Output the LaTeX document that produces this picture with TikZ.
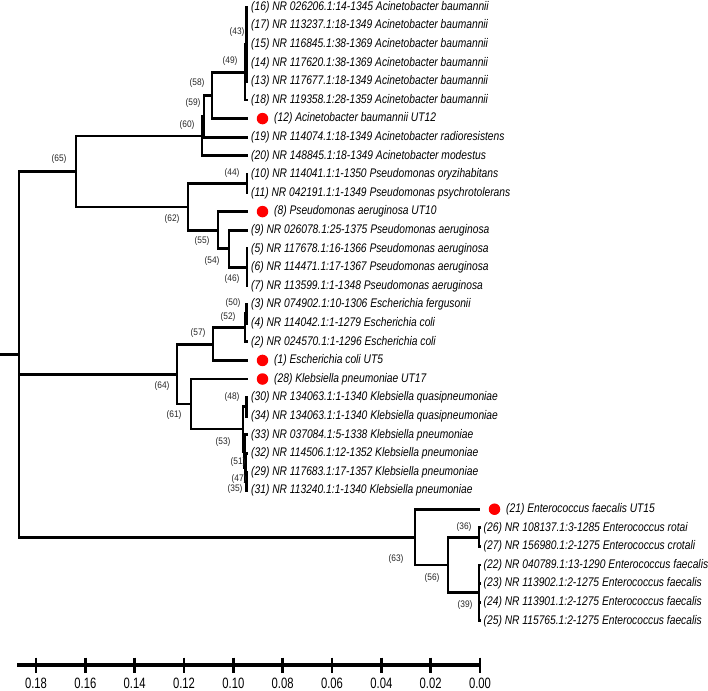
\documentclass[tikz,border=0pt]{standalone}
\usepackage{fontspec}
\newfontfamily\leaffont[FakeStretch=0.82]{Liberation Sans}
\newfontfamily\bsfont[FakeStretch=0.88]{Liberation Sans}
\newfontfamily\axfont[FakeStretch=0.75]{Liberation Sans}
\tikzset{
  br/.style={line width=2.9pt, line join=miter},
  axisline/.style={line width=3.2pt},
  leaflabel/.style={anchor=west, inner sep=0pt, font=\leaffont\itshape\fontsize{12.5}{14}\selectfont},
  bs/.style={inner sep=0pt, text=black!85, font=\bsfont\fontsize{9.5}{11}\selectfont},
  reddot/.style={circle, fill=red, inner sep=0pt, minimum size=11.5pt},
  axlabel/.style={inner sep=0pt, font=\axfont\fontsize{15}{17}\selectfont}
}
\newcommand\plainleaf[4]{\coordinate (#1) at (#2,#3); \node[leaflabel] (t#1) at ([xshift=3pt]#1) {#4};}
\newcommand\dotleaf[4]{\coordinate (#1) at (#2,#3); \node[reddot] (d#1) at ([xshift=14.5pt]#1) {}; \node[leaflabel] (t#1) at ([xshift=26pt]#1) {#4};}
\newcommand\kids[2]{\foreach \c in {#2}{\draw[br] (#1) |- (\c);}}
\begin{document}
\begin{tikzpicture}[x=1pt,y=-1pt]
\useasboundingbox (0,0) rectangle (708,690);
% leaves
\plainleaf{L16}{248}{7.0}{(16) NR 026206.1:14-1345 Acinetobacter baumannii}
\plainleaf{L17}{248}{25.6}{(17) NR 113237.1:18-1349 Acinetobacter baumannii}
\plainleaf{L15}{248}{44.2}{(15) NR 116845.1:38-1369 Acinetobacter baumannii}
\plainleaf{L14}{248}{62.8}{(14) NR 117620.1:38-1369 Acinetobacter baumannii}
\plainleaf{L13}{248}{81.4}{(13) NR 117677.1:18-1349 Acinetobacter baumannii}
\plainleaf{L18}{248}{100.0}{(18) NR 119358.1:28-1359 Acinetobacter baumannii}
\dotleaf{L12}{248}{118.6}{(12) Acinetobacter baumannii UT12}
\plainleaf{L19}{248}{137.2}{(19) NR 114074.1:18-1349 Acinetobacter radioresistens}
\plainleaf{L20}{248}{155.8}{(20) NR 148845.1:18-1349 Acinetobacter modestus}
\plainleaf{L10}{248}{174.4}{(10) NR 114041.1:1-1350 Pseudomonas oryzihabitans}
\plainleaf{L11}{248}{193.0}{(11) NR 042191.1:1-1349 Pseudomonas psychrotolerans}
\dotleaf{L8}{248}{211.6}{(8) Pseudomonas aeruginosa UT10}
\plainleaf{L9}{248}{230.2}{(9) NR 026078.1:25-1375 Pseudomonas aeruginosa}
\plainleaf{L5}{248}{248.8}{(5) NR 117678.1:16-1366 Pseudomonas aeruginosa}
\plainleaf{L6}{248}{267.4}{(6) NR 114471.1:17-1367 Pseudomonas aeruginosa}
\plainleaf{L7}{248}{286.0}{(7) NR 113599.1:1-1348 Pseudomonas aeruginosa}
\plainleaf{L3}{248}{304.6}{(3) NR 074902.1:10-1306 Escherichia fergusonii}
\plainleaf{L4}{248}{323.2}{(4) NR 114042.1:1-1279 Escherichia coli}
\plainleaf{L2}{248}{341.8}{(2) NR 024570.1:1-1296 Escherichia coli}
\dotleaf{L1}{248}{360.4}{(1) Escherichia coli UT5}
\dotleaf{L28}{248}{379.0}{(28) Klebsiella pneumoniae UT17}
\plainleaf{L30}{248}{397.6}{(30) NR 134063.1:1-1340 Klebsiella quasipneumoniae}
\plainleaf{L34}{248}{416.2}{(34) NR 134063.1:1-1340 Klebsiella quasipneumoniae}
\plainleaf{L33}{248}{434.8}{(33) NR 037084.1:5-1338 Klebsiella pneumoniae}
\plainleaf{L32}{248}{453.4}{(32) NR 114506.1:12-1352 Klebsiella pneumoniae}
\plainleaf{L29}{248}{472.0}{(29) NR 117683.1:17-1357 Klebsiella pneumoniae}
\plainleaf{L31}{248}{490.6}{(31) NR 113240.1:1-1340 Klebsiella pneumoniae}
\dotleaf{L21}{480}{509.2}{(21) Enterococcus faecalis UT15}
\plainleaf{L26}{480.5}{527.8}{(26) NR 108137.1:3-1285 Enterococcus rotai}
\plainleaf{L27}{480.5}{546.4}{(27) NR 156980.1:2-1275 Enterococcus crotali}
\plainleaf{L22}{480.5}{565.0}{(22) NR 040789.1:13-1290 Enterococcus faecalis}
\plainleaf{L23}{480.5}{583.6}{(23) NR 113902.1:2-1275 Enterococcus faecalis}
\plainleaf{L24}{480.5}{602.2}{(24) NR 113901.1:2-1275 Enterococcus faecalis}
\plainleaf{L25}{480.5}{620.8}{(25) NR 115765.1:2-1275 Enterococcus faecalis}
% internal nodes
\coordinate (n43) at (246.5,44.2);
\coordinate (n49) at (245,72.1);
\coordinate (nA) at (212,95.35);
\coordinate (nB) at (204,116.3);
\coordinate (nC) at (202,136.0);
\coordinate (n44) at (247,183.7);
\coordinate (n46) at (247,267.4);
\coordinate (n54) at (229,248.8);
\coordinate (n55) at (218,230.2);
\coordinate (n62) at (188,206.95);
\coordinate (n65) at (76,171.5);
\coordinate (n50) at (246.5,313.9);
\coordinate (n52) at (245,327.85);
\coordinate (n57) at (213,344.1);
\coordinate (n48) at (246.5,406.9);
\coordinate (n35) at (246.5,481.3);
\coordinate (n47) at (245.5,467.35);
\coordinate (n51) at (244.5,451.1);
\coordinate (n53) at (243,429.0);
\coordinate (n61) at (191,404.0);
\coordinate (n64) at (177,374.05);
\coordinate (n36) at (479,537.1);
\coordinate (n39) at (479,592.9);
\coordinate (n56) at (448,565.0);
\coordinate (n63) at (415,537.1);
\coordinate (root) at (19,354.3);
\coordinate (root0) at (0,354.3);
% branches
\kids{n43}{L16,L17,L15,L14,L13}
\kids{n49}{n43,L18}
\kids{nA}{n49,L12}
\kids{nB}{nA,L19}
\kids{nC}{nB,L20}
\kids{n44}{L10,L11}
\kids{n46}{L5,L6,L7}
\kids{n54}{L9,n46}
\kids{n55}{L8,n54}
\kids{n62}{n44,n55}
\kids{n65}{nC,n62}
\kids{n50}{L3,L4}
\kids{n52}{n50,L2}
\kids{n57}{n52,L1}
\kids{n48}{L30,L34}
\kids{n35}{L29,L31}
\kids{n47}{L32,n35}
\kids{n51}{L33,n47}
\kids{n53}{n48,n51}
\kids{n61}{L28,n53}
\kids{n64}{n57,n61}
\kids{n36}{L26,L27}
\kids{n39}{L22,L23,L24,L25}
\kids{n56}{n36,n39}
\kids{n63}{L21,n56}
\kids{root}{n65,n64,n63}
\draw[br] (root0) -- (root);
% bootstrap values
\node[bs] (b43) at (237,32) {(43)};
\node[bs] (b49) at (230,61) {(49)};
\node[bs] (b58) at (197,83) {(58)};
\node[bs] (b59) at (193,103) {(59)};
\node[bs] (b60) at (187,125) {(60)};
\node[bs] (b65) at (59,159) {(65)};
\node[bs] (b44) at (232,173) {(44)};
\node[bs] (b62) at (172,219) {(62)};
\node[bs] (b55) at (202,241) {(55)};
\node[bs] (b54) at (212,261) {(54)};
\node[bs] (b46) at (232,279) {(46)};
\node[bs] (b50) at (233,303) {(50)};
\node[bs] (b52) at (228,317) {(52)};
\node[bs] (b57) at (198,333) {(57)};
\node[bs] (b64) at (162,386) {(64)};
\node[bs] (b48) at (232,397) {(48)};
\node[bs] (b61) at (174,415) {(61)};
\node[bs] (b53) at (223,442) {(53)};
\node[bs] (b51) at (238,462) {(51)};
\node[bs] (b47) at (239,479) {(47)};
\node[bs] (b35) at (235,489) {(35)};
\node[bs] (b36) at (464,527) {(36)};
\node[bs] (b63) at (396,559) {(63)};
\node[bs] (b56) at (432,578) {(56)};
\node[bs] (b39) at (465,605) {(39)};
% scale axis
\coordinate (ax0) at (17,665);
\coordinate (ax1) at (480,665);
\draw[axisline] (ax0) -- (ax1);
\foreach \i/\lab in {0/0.00,1/0.02,2/0.04,3/0.06,4/0.08,5/0.10,6/0.12,7/0.14,8/0.16,9/0.18}{
  \coordinate (tk\i) at ({480-49.33*\i},665);
  \draw[br] ([yshift=7.5pt]tk\i) -- ([yshift=-7.5pt]tk\i);
  \node[axlabel] (lab\i) at ([yshift=-18pt]tk\i) {\lab};
}
\end{tikzpicture}
\end{document}
